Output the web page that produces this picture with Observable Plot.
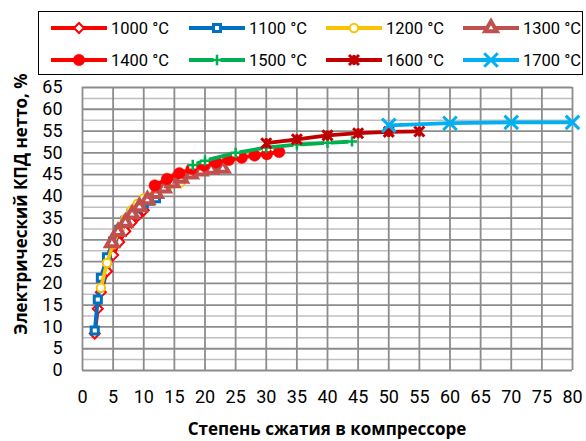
<!DOCTYPE html>
<html>
<head>
<meta charset="utf-8">
<script src="https://cdn.jsdelivr.net/npm/d3@7"></script>
<script src="https://cdn.jsdelivr.net/npm/@observablehq/plot@0.6"></script>
<style>
  html, body { margin: 0; padding: 0; background: #fff; }
  body { width: 586px; height: 441px; overflow: hidden; font-family: Roboto, "Noto Sans", sans-serif; }
  #legend { position: relative; width: 586px; height: 80px; }
  #legend .box { position: absolute; left: 38px; top: 11px; width: 545px; height: 64px; border: 1.5px solid #000; box-sizing: border-box; }
  #legend .item { position: absolute; display: flex; align-items: center; font-size: 16.5px; color: #000; white-space: nowrap; }
  #legend svg { display: block; margin-right: 3px; }
  #chart svg { overflow: visible; display: block; }
</style>
</head>
<body>
<div id="legend"><div class="box"></div></div>
<div id="chart"></div>
<script>
// ---- data ----
const seriesNames = ["1000 °C", "1100 °C", "1200 °C", "1300 °C", "1400 °C", "1500 °C", "1600 °C", "1700 °C"];
const seriesColors = ["#FF0000", "#0070C0", "#FFC000", "#C0504D", "#FF0000", "#00B050", "#C00000", "#00B0F0"];

const x1000 = [2, 2.5, 3, 4, 5, 6, 7, 8, 9, 10];
const y1000 = [8.5, 14.2, 18.0, 22.8, 26.5, 29.5, 32.0, 34.0, 35.5, 36.8];
const x1100 = [2, 2.5, 3, 4, 5, 6, 7, 8, 9, 10, 11, 12];
const y1100 = [9.2, 16.3, 21.3, 26.0, 29.6, 32.3, 34.4, 36.0, 37.3, 38.3, 39.0, 39.6];
const x1200 = [3, 4, 5, 6, 7, 8, 9, 10, 12, 14, 16];
const y1200 = [19.0, 24.7, 29.0, 32.3, 34.8, 36.8, 38.3, 39.5, 41.3, 42.5, 43.2];
const x1300 = [4.8, 5.8, 7.0, 8.1, 9.3, 10.6, 12.0, 13.3, 14.7, 16.1, 17.7, 19.3, 21.0, 22.9];
const y1300 = [29.3, 31.9, 34.0, 35.9, 37.6, 39.2, 40.6, 41.9, 43.1, 44.1, 45.1, 45.8, 46.2, 46.4];
const x1400 = [11.8, 13.8, 15.8, 17.8, 19.8, 21.8, 23.9, 26.0, 28.1, 30.1, 32.1];
const y1400 = [42.5, 44.0, 45.3, 46.3, 47.1, 47.8, 48.4, 48.9, 49.4, 49.7, 50.2];
const x1500 = [18, 20, 25, 30, 35, 40, 44];
const y1500 = [47.2, 48.2, 50.0, 51.2, 51.9, 52.3, 52.6];
const x1600 = [30, 35, 40, 45, 50, 55];
const y1600 = [52.2, 53.1, 54.0, 54.5, 54.8, 54.9];
const x1700 = [50, 60, 70, 80];
const y1700 = [56.3, 56.8, 57.0, 57.0];

const xTicks = [0, 5, 10, 15, 20, 25, 30, 35, 40, 45, 50, 55, 60, 65, 70, 75, 80];
const yTicks = [0, 5, 10, 15, 20, 25, 30, 35, 40, 45, 50, 55, 60, 65];
const yMinor = [2.5, 7.5, 12.5, 17.5, 22.5, 27.5, 32.5, 37.5, 42.5, 47.5, 52.5, 57.5, 62.5];

const xTitle = "Степень сжатия в компрессоре";
const yTitle = "Электрический КПД нетто, %";

// ---- marker styles ----
const starSymbol = {
  draw(ctx, size) {
    const r = Math.sqrt(size / Math.PI);
    ctx.moveTo(-r, -r); ctx.lineTo(r, r);
    ctx.moveTo(r, -r); ctx.lineTo(-r, r);
    ctx.moveTo(0, -r); ctx.lineTo(0, r);
  }
};
const markerStyles = [
  {symbol: "diamond2", d3sym: d3.symbolDiamond2, r: 4.5, fill: "white", stroke: seriesColors[0], sw: 2},
  {symbol: "square", d3sym: d3.symbolSquare, r: 4, fill: "white", stroke: seriesColors[1], sw: 3},
  {symbol: "circle", d3sym: d3.symbolCircle, r: 4.2, fill: "white", stroke: seriesColors[2], sw: 2},
  {symbol: "triangle", d3sym: d3.symbolTriangle, r: 4.3, fill: "white", stroke: seriesColors[3], sw: 4},
  {symbol: "circle", d3sym: d3.symbolCircle, r: 5.8, fill: seriesColors[4], stroke: seriesColors[4], sw: 0.5},
  {symbol: "plus", d3sym: d3.symbolPlus, r: 3.4, fill: "none", stroke: seriesColors[5], sw: 2.5, bg: true},
  {symbol: starSymbol, d3sym: starSymbol, r: 5, fill: "none", stroke: seriesColors[6], sw: 3},
  {symbol: "times", d3sym: d3.symbolTimes, r: 6.2, fill: "none", stroke: seriesColors[7], sw: 3}
];

const xs = [x1000, x1100, x1200, x1300, x1400, x1500, x1600, x1700];
const ys = [y1000, y1100, y1200, y1300, y1400, y1500, y1600, y1700];
const series = xs.map((xv, i) => xv.map((x, j) => ({x, y: ys[i][j]})));

// ---- chart ----
const marks = [
  Plot.ruleY(yMinor, {stroke: "#BFBFBF", strokeWidth: 1.5}),
  Plot.ruleY(yTicks, {stroke: "#8C8C8C", strokeWidth: 1.8}),
  Plot.ruleX(xTicks, {stroke: "#8C8C8C", strokeWidth: 1.8}),
];
series.forEach((data, i) => {
  const m = markerStyles[i];
  marks.push(Plot.line(data, {x: "x", y: "y", stroke: seriesColors[i], strokeWidth: 3.8, curve: "linear"}));
  if (m.bg) marks.push(Plot.dot(data, {x: "x", y: "y", symbol: "square", r: 4, fill: "white", stroke: "none"}));
  marks.push(Plot.dot(data, {x: "x", y: "y", symbol: m.symbol, r: m.r, fill: m.fill, stroke: m.stroke, strokeWidth: m.sw}));
});
marks.push(
  Plot.axisX(xTicks, {tickSize: 0, tickPadding: 20, fontSize: 18, label: null}),
  Plot.axisY(yTicks, {tickSize: 0, tickPadding: 20, fontSize: 18, label: null})
);

const chart = Plot.plot({
  width: 586,
  height: 361,
  marginLeft: 82,
  marginRight: 14,
  marginTop: 7,
  marginBottom: 71,
  style: {fontFamily: "Roboto, 'Noto Sans', sans-serif", color: "#000", background: "white"},
  x: {domain: [0, 80]},
  y: {domain: [0, 65]},
  marks
});
document.getElementById("chart").appendChild(chart);

// axis titles (real SVG text, positioned in the chart's own coordinates)
const svgSel = d3.select(chart);
const titleFont = "'Open Sans', Roboto, sans-serif";
svgSel.append("text")
  .attr("x", 327).attr("y", 348)
  .attr("text-anchor", "middle").attr("dominant-baseline", "central")
  .attr("font-family", titleFont).attr("font-weight", "bold").attr("font-size", 17)
  .attr("fill", "#000").text(xTitle);
svgSel.append("text")
  .attr("transform", "translate(20,124) rotate(-90)")
  .attr("text-anchor", "middle").attr("dominant-baseline", "central")
  .attr("font-family", titleFont).attr("font-weight", "bold").attr("font-size", 17)
  .attr("fill", "#000").text(yTitle);

// ---- legend ----
const legend = document.getElementById("legend");
const colX = [50, 188, 325, 462];
const rowY = [28, 60];
seriesNames.forEach((name, i) => {
  const m = markerStyles[i];
  const item = document.createElement("div");
  item.className = "item";
  item.style.left = colX[i % 4] + "px";
  item.style.top = (rowY[Math.floor(i / 4)] - 11) + "px";
  item.style.height = "22px";
  const w = 58, h = 22;
  const svg = d3.create("svg").attr("width", w).attr("height", h);
  svg.append("line").attr("x1", 1).attr("x2", w - 1).attr("y1", h / 2).attr("y2", h / 2)
    .attr("stroke", seriesColors[i]).attr("stroke-width", 3.8);
  if (m.bg) {
    svg.append("path").attr("transform", `translate(${w / 2},${h / 2})`)
      .attr("d", d3.symbol(d3.symbolSquare, 4 * 4 * Math.PI)()).attr("fill", "white");
  }
  svg.append("path").attr("transform", `translate(${w / 2},${h / 2})`)
    .attr("d", d3.symbol(m.d3sym, m.r * m.r * Math.PI)())
    .attr("fill", m.fill).attr("stroke", m.stroke).attr("stroke-width", m.sw);
  item.appendChild(svg.node());
  const span = document.createElement("span");
  span.textContent = name;
  item.appendChild(span);
  legend.appendChild(item);
});
</script>
</body>
</html>
